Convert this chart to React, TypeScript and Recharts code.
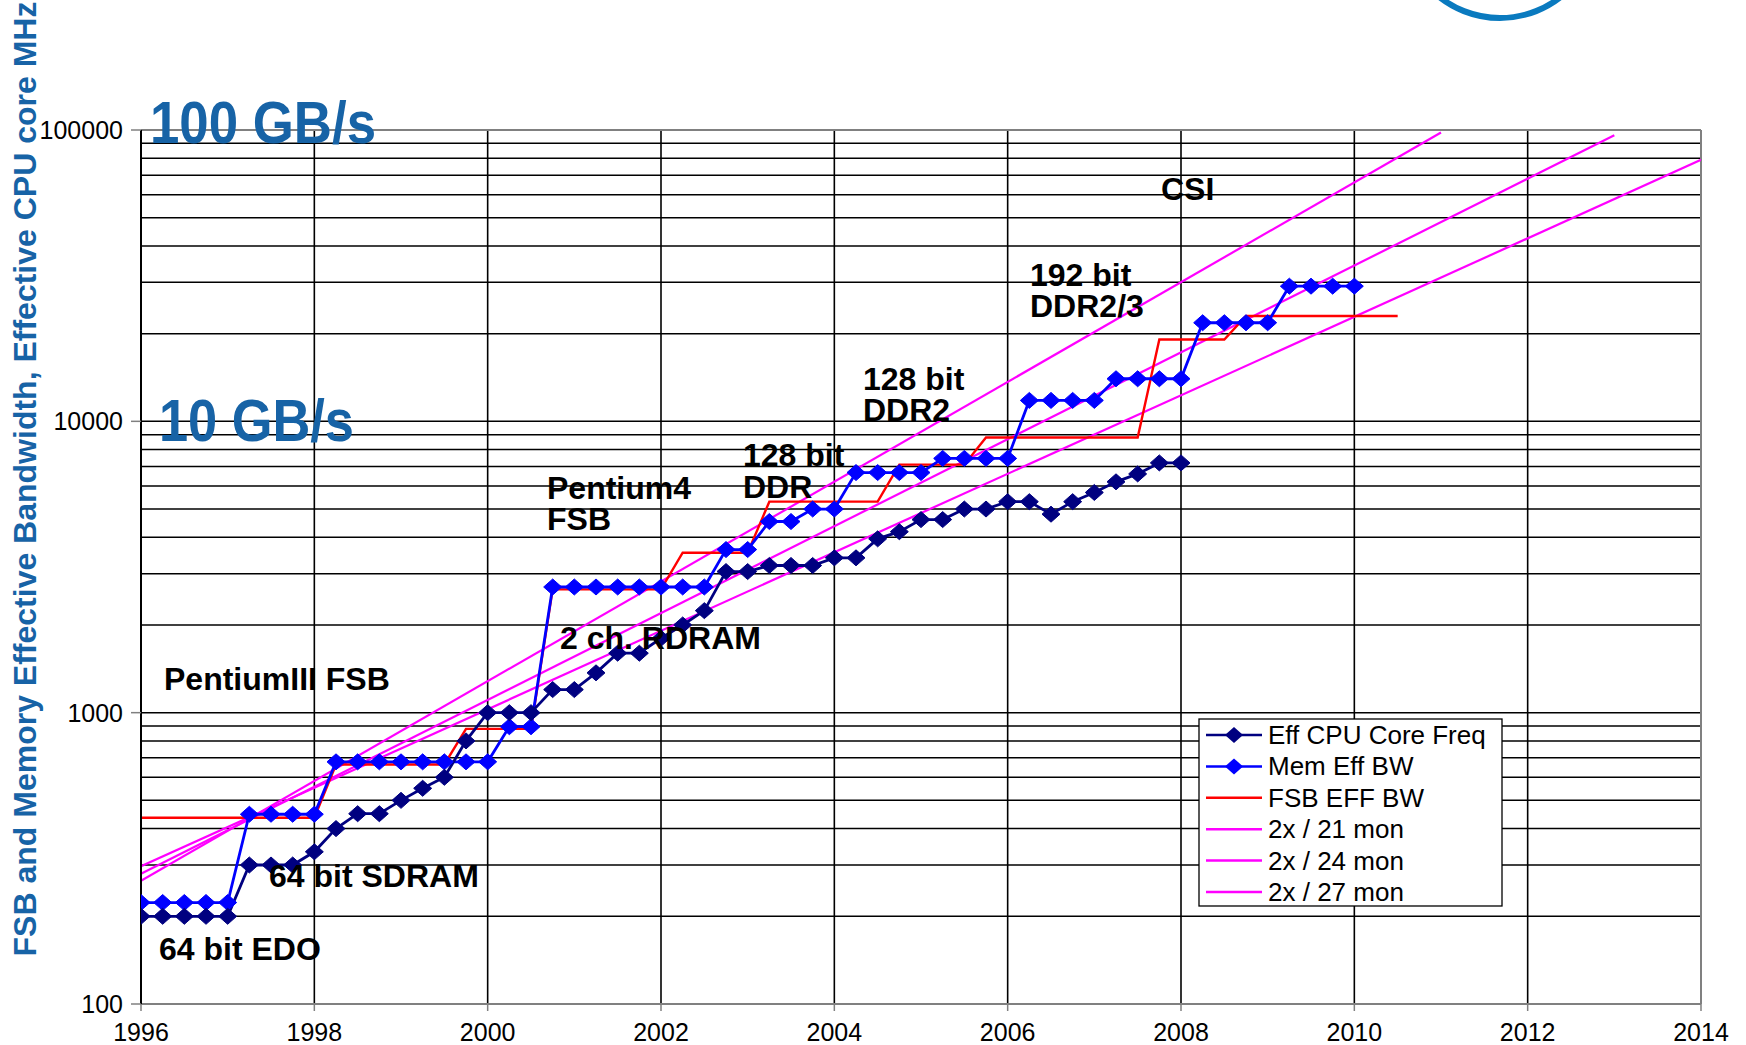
import React from 'react'
import { LineChart, Line, XAxis, YAxis, ReferenceLine } from 'recharts'

// quarterly sample positions (years)
const quarters = Array.from({ length: 59 }, (_, i) => 1996 + i / 4)

const cpuFreq = [
  200, 200, 200, 200, 200, 300, 300, 300, 333, 400, 450, 450, 500, 550, 600, 800,
  1000, 1000, 1000, 1200, 1200, 1370, 1600, 1600, 1800, 2000, 2240, 3050, 3050,
  3200, 3200, 3200, 3400, 3400, 3950, 4180, 4600, 4600, 5000, 5000, 5300, 5300,
  4800, 5300, 5700, 6200, 6600, 7200, 7200,
]

const memBw = [
  223, 223, 223, 223, 223, 448, 448, 448, 448, 678, 678, 678, 678, 678, 678, 678, 678,
  895, 895, 2700, 2700, 2700, 2700, 2700, 2700, 2700, 2700, 3630, 3630, 4530, 4530,
  5000, 5000, 6670, 6670, 6670, 6670, 7460, 7460, 7460, 7460, 11800, 11800, 11800,
  11800, 14000, 14000, 14000, 14000, 21800, 21800, 21800, 21800, 29100, 29100, 29100, 29100,
]

const fsbBw = [
  436, 436, 436, 436, 436, 436, 436, 436, 436, 664, 664, 664, 664, 664, 664, 880, 880,
  880, 880, 2650, 2650, 2650, 2650, 2650, 2650, 3540, 3540, 3540, 3540, 5300, 5300,
  5300, 5300, 5300, 5300, 7100, 7100, 7100, 7100, 8800, 8800, 8800, 8800, 8800, 8800,
  8800, 8800, 19100, 19100, 19100, 19100, 23000, 23000, 23000, 23000, 23000, 23000,
  23000, 23000,
]

// doubling trend lines, read at their two ends
const trend21Years = [1996, 2011]
const trend21 = [265, 98000]
const trend24Years = [1996, 2013]
const trend24 = [280, 96000]
const trend27Years = [1996, 2014]
const trend27 = [297, 79000]

const yearTicks = [1996, 1998, 2000, 2002, 2004, 2006, 2008, 2010, 2012, 2014]
const decadeTicks = [100, 1000, 10000, 100000]
const gridValues = [
  200, 300, 400, 500, 600, 700, 800, 900, 1000, 2000, 3000, 4000, 5000, 6000, 7000,
  8000, 9000, 10000, 20000, 30000, 40000, 50000, 60000, 70000, 80000, 90000,
]
const gridYears = [1998, 2000, 2002, 2004, 2006, 2008, 2010, 2012]

const toPoints = (years: number[], values: number[]) =>
  values.map((value, i) => ({ year: years[i], value }))

const FONT = '"Liberation Sans", Arial, sans-serif'
const TITLE_BLUE = '#1763a6'

const diamond = (color: string) => (props: any) => {
  const { cx, cy, index } = props
  if (cx == null || cy == null) return <g key={`e-${index}`} />
  return (
    <polygon
      key={`d-${color}-${index}`}
      points={`${cx},${cy - 8} ${cx + 9},${cy} ${cx},${cy + 8} ${cx - 9},${cy}`}
      fill={color}
      stroke={color}
    />
  )
}

const XTick = (props: any) => {
  const { x, y, payload } = props
  return (
    <text x={x} y={y + 28} textAnchor="middle" fontSize={25} fontFamily={FONT} fill="#000">
      {payload.value}
    </text>
  )
}

const YTick = (props: any) => {
  const { x, y, payload } = props
  return (
    <text x={x} y={y + 9} textAnchor="end" fontSize={25} fontFamily={FONT} fill="#000">
      {payload.value}
    </text>
  )
}

const notes: { text: string; x: number; y: number }[] = [
  { text: 'CSI', x: 1161, y: 200 },
  { text: '192 bit', x: 1030, y: 286 },
  { text: 'DDR2/3', x: 1030, y: 317 },
  { text: '128 bit', x: 863, y: 390 },
  { text: 'DDR2', x: 863, y: 421 },
  { text: '128 bit', x: 743, y: 466 },
  { text: 'DDR', x: 743, y: 498 },
  { text: 'Pentium4', x: 547, y: 499 },
  { text: 'FSB', x: 547, y: 530 },
  { text: '2 ch. RDRAM', x: 560, y: 649 },
  { text: 'PentiumIII FSB', x: 164, y: 690 },
  { text: '64 bit SDRAM', x: 269, y: 887 },
  { text: '64 bit EDO', x: 159, y: 960 },
]

const legendItems = [
  { name: 'Eff CPU Core Freq', color: '#000080', marker: true },
  { name: 'Mem Eff BW', color: '#0000ff', marker: true },
  { name: 'FSB EFF BW', color: '#ff0000', marker: false },
  { name: '2x / 21 mon', color: '#ff00ff', marker: false },
  { name: '2x / 24 mon', color: '#ff00ff', marker: false },
  { name: '2x / 27 mon', color: '#ff00ff', marker: false },
]

export default function App() {
  return (
    <div style={{ position: 'absolute', left: 0, top: 0, width: 1746, height: 1045, background: '#fff' }}>
      <LineChart
        width={1746}
        height={1045}
        margin={{ top: 130, right: 45, bottom: 1, left: 41 }}
      >
        <XAxis
          type="number"
          dataKey="year"
          domain={[1996, 2014]}
          ticks={yearTicks}
          allowDataOverflow
          height={40}
          tickSize={7}
          axisLine={{ stroke: '#808080', strokeWidth: 2 }}
          tickLine={{ stroke: '#808080', strokeWidth: 1.5 }}
          tick={<XTick />}
        />
        <YAxis
          type="number"
          scale="log"
          domain={[100, 100000]}
          ticks={decadeTicks}
          allowDataOverflow
          width={100}
          tickSize={10}
          tickMargin={8}
          axisLine={{ stroke: '#000', strokeWidth: 2 }}
          tickLine={{ stroke: '#808080', strokeWidth: 1.5 }}
          tick={<YTick />}
        />
        {gridValues.map((v) => (
          <ReferenceLine key={`h-${v}`} y={v} stroke="#000" strokeWidth={1.5} />
        ))}
        {gridYears.map((yr) => (
          <ReferenceLine key={`v-${yr}`} x={yr} stroke="#000" strokeWidth={1.6} />
        ))}
        <ReferenceLine y={100000} stroke="#808080" strokeWidth={2} />
        <ReferenceLine x={2014} stroke="#808080" strokeWidth={2} />

        <Line data={toPoints(trend21Years, trend21)} dataKey="value" stroke="#ff00ff" strokeWidth={2.2} dot={false} isAnimationActive={false} />
        <Line data={toPoints(trend24Years, trend24)} dataKey="value" stroke="#ff00ff" strokeWidth={2.2} dot={false} isAnimationActive={false} />
        <Line data={toPoints(trend27Years, trend27)} dataKey="value" stroke="#ff00ff" strokeWidth={2.2} dot={false} isAnimationActive={false} />
        <Line data={toPoints(quarters, fsbBw)} dataKey="value" stroke="#ff0000" strokeWidth={2.4} dot={false} isAnimationActive={false} />
        <Line data={toPoints(quarters, memBw)} dataKey="value" stroke="#0000ff" strokeWidth={2.8} dot={diamond('#0000ff')} isAnimationActive={false} />
        <Line data={toPoints(quarters, cpuFreq)} dataKey="value" stroke="#000080" strokeWidth={2.8} dot={diamond('#000080')} isAnimationActive={false} />
      </LineChart>

      <svg
        width={1746}
        height={1045}
        style={{ position: 'absolute', left: 0, top: 0, pointerEvents: 'none' }}
      >
        {/* logo ring fragment */}
        <circle cx={1500} cy={-80} r={98} fill="none" stroke="#0a7abf" strokeWidth={6} />

        {/* axis title */}
        <text
          transform="translate(36, 479) rotate(-90)"
          textAnchor="middle"
          fontSize={32}
          fontWeight="bold"
          fontFamily={FONT}
          fill={TITLE_BLUE}
        >
          FSB and Memory Effective Bandwidth, Effective CPU core MHz
        </text>

        <text x={150} y={143} fontSize={60} fontWeight="bold" fontFamily={FONT} fill={TITLE_BLUE} textLength={226} lengthAdjust="spacingAndGlyphs">
          100 GB/s
        </text>
        <text x={159} y={441} fontSize={60} fontWeight="bold" fontFamily={FONT} fill={TITLE_BLUE} textLength={195} lengthAdjust="spacingAndGlyphs">
          10 GB/s
        </text>

        {notes.map((n, i) => (
          <text key={i} x={n.x} y={n.y} fontSize={32} fontWeight="bold" fontFamily={FONT} fill="#000">
            {n.text}
          </text>
        ))}

        {/* legend */}
        <rect x={1199} y={719} width={303} height={187} fill="#fff" stroke="#000" strokeWidth={1.3} />
        {legendItems.map((item, i) => {
          const cy = 735 + i * 31.4
          return (
            <g key={item.name}>
              <line x1={1206} x2={1262} y1={cy} y2={cy} stroke={item.color} strokeWidth={2.5} />
              {item.marker && (
                <polygon
                  points={`1234,${cy - 8} 1243,${cy} 1234,${cy + 8} 1225,${cy}`}
                  fill={item.color}
                />
              )}
              <text x={1268} y={cy + 9} fontSize={26} fontFamily={FONT} fill="#000">
                {item.name}
              </text>
            </g>
          )
        })}
      </svg>
    </div>
  )
}
